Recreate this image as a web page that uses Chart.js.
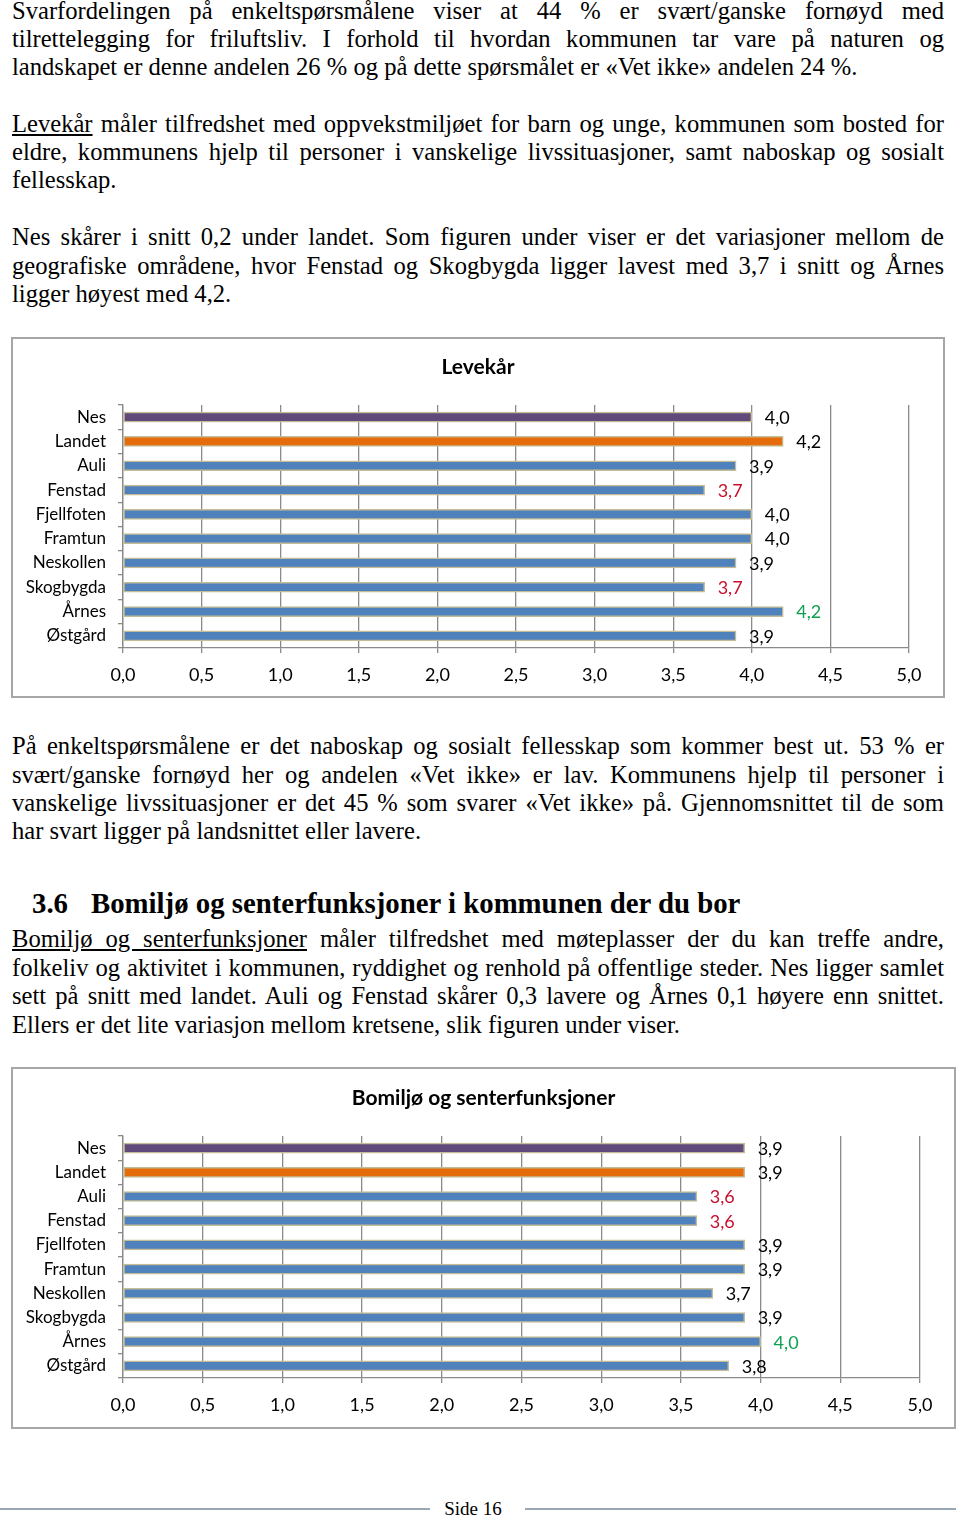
<!DOCTYPE html>
<html lang="no">
<head>
<meta charset="utf-8">
<title>Levekår og bomiljø</title>
<script src="https://cdn.jsdelivr.net/npm/chart.js@4.4.1/dist/chart.umd.min.js"></script>
<style>
  body { margin: 0; background: #fff; }
  #side { position: relative; width: 960px; height: 1520px; overflow: hidden;
          font-family: "Liberation Serif", "Times New Roman", serif; color: #000; }
  .ln { position: absolute; left: 12px; width: 932px; font-family: "Liberation Serif", serif; font-size: 24.6px; line-height: 28px; height: 28px;
        white-space: nowrap; text-align: justify; text-align-last: justify; }
  .ln.slutt { text-align-last: left; }
  .ln u { text-underline-offset: 2px; }
  h2 { position: absolute; left: 32px; top: 886px; margin: 0; font-family: "Liberation Serif", serif; font-size: 28.8px; line-height: 34px; font-weight: bold; white-space: nowrap; }
  h2 span { display: inline-block; width: 59px; }
  .boks { position: absolute; left: 11px; border: 2px solid #a6a6a6; box-sizing: border-box; background: #fff; }
  #boks1 { top: 337px; width: 934px; height: 361px; }
  #boks2 { top: 1067px; width: 945px; height: 362px; }
  .fot { position: absolute; top: 1508px; height: 2px; background: #9aa8b6; }
  #sidetall { position: absolute; left: 0; width: 946px; top: 1497px; text-align: center; font-family: "Liberation Serif", serif; font-size: 19px; line-height: 24px; }
</style>
</head>
<body>
<div id="side">
  <div class="ln" style="top:-3px">Svarfordelingen på enkeltspørsmålene viser at 44 % er svært/ganske fornøyd med</div>
  <div class="ln" style="top:25px">tilrettelegging for friluftsliv. I forhold til hvordan kommunen tar vare på naturen og</div>
  <div class="ln slutt" style="top:53px">landskapet er denne andelen 26 % og på dette spørsmålet er «Vet ikke» andelen 24 %.</div>

  <div class="ln" style="top:110px"><u>Levekår</u> måler tilfredshet med oppvekstmiljøet for barn og unge, kommunen som bosted for</div>
  <div class="ln" style="top:138px">eldre, kommunens hjelp til personer i vanskelige livssituasjoner, samt naboskap og sosialt</div>
  <div class="ln slutt" style="top:166px">fellesskap.</div>

  <div class="ln" style="top:223px">Nes skårer i snitt 0,2 under landet. Som figuren under viser er det variasjoner mellom de</div>
  <div class="ln" style="top:252px">geografiske områdene, hvor Fenstad og Skogbygda ligger lavest med 3,7 i snitt og Årnes</div>
  <div class="ln slutt" style="top:280px">ligger høyest med 4,2.</div>

  <div class="boks" id="boks1"><canvas id="levekaar"></canvas></div>

  <div class="ln" style="top:732px">På enkeltspørsmålene er det naboskap og sosialt fellesskap som kommer best ut. 53 % er</div>
  <div class="ln" style="top:761px">svært/ganske fornøyd her og andelen «Vet ikke» er lav. Kommunens hjelp til personer i</div>
  <div class="ln" style="top:789px">vanskelige livssituasjoner er det 45 % som svarer «Vet ikke» på. Gjennomsnittet til de som</div>
  <div class="ln slutt" style="top:817px">har svart ligger på landsnittet eller lavere.</div>

  <h2><span>3.6</span>Bomiljø og senterfunksjoner i kommunen der du bor</h2>

  <div class="ln" style="top:925px"><u>Bomiljø og senterfunksjoner</u> måler tilfredshet med møteplasser der du kan treffe andre,</div>
  <div class="ln" style="top:954px">folkeliv og aktivitet i kommunen, ryddighet og renhold på offentlige steder. Nes ligger samlet</div>
  <div class="ln" style="top:982px">sett på snitt med landet. Auli og Fenstad skårer 0,3 lavere og Årnes 0,1 høyere enn snittet.</div>
  <div class="ln slutt" style="top:1011px">Ellers er det lite variasjon mellom kretsene, slik figuren under viser.</div>

  <div class="boks" id="boks2"><canvas id="bomiljo"></canvas></div>

  <div class="fot" style="left:0; width:430px"></div>
  <div id="sidetall">Side 16</div>
  <div class="fot" style="left:525px; width:431px"></div>
</div>

<script>
// ----- Data lest av figurene -----
const kategorier = ['Nes', 'Landet', 'Auli', 'Fenstad', 'Fjellfoten', 'Framtun', 'Neskollen', 'Skogbygda', 'Årnes', 'Østgård'];
const levekaarVerdier = [4.0, 4.2, 3.9, 3.7, 4.0, 4.0, 3.9, 3.7, 4.2, 3.9];
const bomiljoVerdier = [3.9, 3.9, 3.6, 3.6, 3.9, 3.9, 3.7, 3.9, 4.0, 3.8];
const xMin = 0;
const xMax = 5;
const xSteg = 0.5;

// farger
const lilla = '#604a7b';
const oransje = '#e46c0a';
const blaa = '#4f81bd';
const svart = '#000000';
const roed = '#c8102e';
const groenn = '#10a050';

const levekaarEtikettFarger = [svart, svart, svart, roed, svart, svart, svart, roed, groenn, svart];
const bomiljoEtikettFarger = [svart, svart, roed, roed, svart, svart, svart, svart, groenn, svart];

const stolpeFarger = kategorier.map(k => k === 'Nes' ? lilla : (k === 'Landet' ? oransje : blaa));

// 4.0 -> "4,0"
const fmt = v => Number(v).toFixed(1).replace('.', ',');

Chart.defaults.font.family = 'Lato, "Open Sans", sans-serif';
Chart.defaults.color = '#000';

// Tegner verdien til høyre for hver stolpe
const verdiEtiketter = {
  id: 'verdiEtiketter',
  afterDatasetsDraw(chart, args, opts) {
    const ctx = chart.ctx;
    const meta = chart.getDatasetMeta(0);
    const data = chart.data.datasets[0].data;
    ctx.save();
    ctx.font = '18px Lato, sans-serif';
    ctx.textAlign = 'left';
    ctx.textBaseline = 'middle';
    meta.data.forEach((bar, i) => {
      ctx.fillStyle = opts.farger[i];
      ctx.fillText(fmt(data[i]), bar.x + 13, bar.y + 1);
    });
    ctx.restore();
  }
};

// Tittel midt i hele boksen (ikke midt i plottområdet)
const boksTittel = {
  id: 'boksTittel',
  afterDraw(chart, args, opts) {
    const ctx = chart.ctx;
    ctx.save();
    ctx.font = 'bold 21px Lato, sans-serif';
    ctx.fillStyle = '#000';
    ctx.textAlign = 'center';
    ctx.textBaseline = 'middle';
    ctx.fillText(opts.tekst, chart.width / 2, opts.y);
    ctx.restore();
  }
};

function lagDiagram(id, tittel, verdier, etikettFarger, tittelY, oppe, nede) {
  const ctx = document.getElementById(id).getContext('2d');
  return new Chart(ctx, {
    type: 'bar',
    data: {
      labels: kategorier,
      datasets: [{
        data: verdier,
        backgroundColor: stolpeFarger,
        borderColor: '#c4bc96',
        borderWidth: 1.5,
        borderSkipped: false,
        barThickness: 10,
      }],
    },
    options: {
      indexAxis: 'y',
      responsive: true,
      maintainAspectRatio: false,
      animation: false,
      layout: { padding: { left: 0, right: 34, top: oppe, bottom: 0 } },
      scales: {
        x: {
          min: xMin,
          max: xMax,
          ticks: { stepSize: xSteg, callback: v => fmt(v), font: { size: 18 }, padding: 11, color: '#000' },
          grid: { color: '#8a8a8a', lineWidth: 1.3, tickLength: 5 },
          border: { color: '#8a8a8a', width: 1.3 },
          afterFit: s => { s.height = nede; },
        },
        y: {
          ticks: { font: { size: 17 }, padding: 12, autoSkip: false, color: '#000' },
          grid: { drawOnChartArea: false, color: '#8a8a8a', lineWidth: 1.3, tickLength: 5 },
          border: { color: '#8a8a8a', width: 1.3 },
          afterFit: s => { s.width = 110; },
        },
      },
      plugins: {
        legend: { display: false },
        tooltip: { enabled: false },
        title: { display: false },
        boksTittel: { tekst: tittel, y: tittelY },
        verdiEtiketter: { farger: etikettFarger },
      },
    },
    plugins: [verdiEtiketter, boksTittel],
  });
}

lagDiagram('levekaar', 'Levekår', levekaarVerdier, levekaarEtikettFarger, 28, 66, 48);
lagDiagram('bomiljo', 'Bomiljø og senterfunksjoner', bomiljoVerdier, bomiljoEtikettFarger, 29, 67, 49);
</script>
</body>
</html>
